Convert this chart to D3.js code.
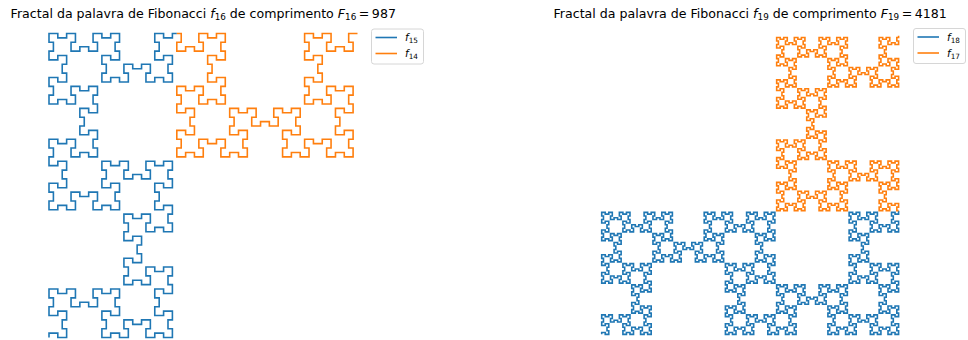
<!DOCTYPE html>
<html>
<head>
<meta charset="utf-8">
<script src="https://cdn.jsdelivr.net/npm/d3@7"></script>
<style>
  body { margin: 0; background: #fff; }
  svg { display: block; }
  text { font-family: "DejaVu Sans", sans-serif; fill: #000; }
</style>
</head>
<body>
<svg id="chart" width="968" height="340"></svg>
<script>
// Fibonacci word seeds: f1 = "1", f2 = "0", and fn = f(n-1) + f(n-2)
const seedWords = ["1", "0"];
// order of the word drawn in each panel, and its stated length F_n
const panelOrders = [16, 19];
const panelLengths = [987, 4181];
// each word is drawn as its two halves: f(n-1) followed by f(n-2)
const partOrders = [[15, 14], [18, 17]];
const partColors = ["#1f77b4", "#ff7f0e"];
const titleStart = "Fractal da palavra de Fibonacci ";
const titleMiddle = " de comprimento ";

// pixel layout of the two panels
const layout = [
  { x0: 49, x1: 357.5, cy: 185.5, legendX: 371, legendY: 28.5 },
  { x0: 601.7, x1: 898.6, cy: 185, legendX: 913, legendY: 28 }
];

function fibonacciWord(n) {
  let a = seedWords[0], b = seedWords[1];
  if (n === 1) return a;
  for (let i = 3; i <= n; i++) { const next = b + a; a = b; b = next; }
  return b;
}

function wordLength(n) {
  let a = 1, b = 1;
  if (n <= 2) return 1;
  for (let i = 3; i <= n; i++) { const next = a + b; a = b; b = next; }
  return b;
}

// Walk the word: one unit step per digit; on a "0" turn left at even
// positions and right at odd positions (positions counted from 1).
function fractalPoints(word) {
  let x = 0, y = 0, dx = 0, dy = 1;
  const pts = [[x, y]];
  for (let k = 1; k <= word.length; k++) {
    x += dx; y += dy;
    pts.push([x, y]);
    if (word[k - 1] === "0") {
      if (k % 2 === 0) { const t = dx; dx = -dy; dy = t; }
      else { const t = dx; dx = dy; dy = -t; }
    }
  }
  return pts;
}

const svg = d3.select("#chart");

panelOrders.forEach((order, p) => {
  const box = layout[p];
  const word = fibonacciWord(order).slice(0, panelLengths[p]);
  const pts = fractalPoints(word);

  const xExt = d3.extent(pts, d => d[0]);
  const yExt = d3.extent(pts, d => d[1]);
  const unit = (box.x1 - box.x0) / (xExt[1] - xExt[0]);
  const yMid = (yExt[0] + yExt[1]) / 2;
  const x = d3.scaleLinear().domain(xExt).range([box.x0, box.x1]);
  const y = d3.scaleLinear()
    .domain([yMid - 1, yMid + 1])
    .range([box.cy + unit, box.cy - unit]);

  const line = d3.line().x(d => x(d[0])).y(d => y(d[1]));
  const g = svg.append("g");

  // split point between f(n-1) and f(n-2)
  const cut = wordLength(partOrders[p][0]);
  const parts = [pts.slice(0, cut + 1), pts.slice(cut)];
  parts.forEach((seg, i) => {
    g.append("path")
      .attr("d", line(seg))
      .attr("fill", "none")
      .attr("stroke", partColors[i])
      .attr("stroke-width", 1.6)
      .attr("stroke-linejoin", "miter")
      .attr("stroke-linecap", "butt");
  });

  // title with math-style subscripts
  const cx = (box.x0 + box.x1) / 2;
  const title = svg.append("text")
    .attr("x", cx).attr("y", 17.5)
    .attr("text-anchor", "middle")
    .style("font-size", "12.6px");
  title.append("tspan").text(titleStart);
  title.append("tspan").style("font-style", "italic").text("f");
  title.append("tspan").attr("dy", 2.7).style("font-size", "8.8px").text(order);
  title.append("tspan").attr("dy", -2.7).text(titleMiddle);
  title.append("tspan").style("font-style", "italic").text("F");
  title.append("tspan").attr("dy", 2.7).style("font-size", "8.8px").text(order);
  title.append("tspan").attr("dy", -2.7).text("\u2009=\u2009" + panelLengths[p]);

  // legend
  const lg = svg.append("g").attr("transform", `translate(${box.legendX},${box.legendY})`);
  lg.append("rect")
    .attr("x", 0.5).attr("y", 0.5)
    .attr("width", 52).attr("height", 35)
    .attr("rx", 2.5)
    .attr("fill", "#fff")
    .attr("stroke", "#d6d6d6")
    .attr("stroke-width", 1);
  partOrders[p].forEach((po, i) => {
    const ly = 9 + i * 16;
    lg.append("line")
      .attr("x1", 4.5).attr("x2", 26)
      .attr("y1", ly).attr("y2", ly)
      .attr("stroke", partColors[i])
      .attr("stroke-width", 1.6);
    const t = lg.append("text")
      .attr("x", 34).attr("y", ly + 3.5)
      .style("font-size", "10.4px");
    t.append("tspan").style("font-style", "italic").text("f");
    t.append("tspan").attr("dy", 2.3).style("font-size", "7.3px").text(po);
  });
});
</script>
</body>
</html>
